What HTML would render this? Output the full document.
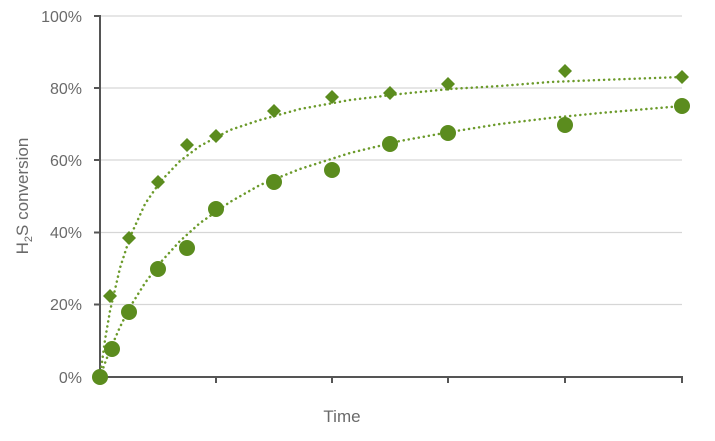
<!DOCTYPE html>
<html><head><style>
body{margin:0;background:#fff;}
svg text{font-family:"Liberation Sans",sans-serif;fill:#6a6a6a;}
</style></head><body>
<svg width="715" height="436" viewBox="0 0 715 436" xmlns="http://www.w3.org/2000/svg">
<g stroke="#d6d6d6" stroke-width="1.3">
<line x1="100" y1="16" x2="682" y2="16"/>
<line x1="100" y1="88" x2="682" y2="88"/>
<line x1="100" y1="160" x2="682" y2="160"/>
<line x1="100" y1="232.5" x2="682" y2="232.5"/>
<line x1="100" y1="304.5" x2="682" y2="304.5"/>
</g>
<g stroke="#555" stroke-width="2">
<line x1="100" y1="15" x2="100" y2="378"/>
<line x1="99" y1="377" x2="683" y2="377"/>
<line x1="94" y1="16" x2="100" y2="16"/>
<line x1="94" y1="88" x2="100" y2="88"/>
<line x1="94" y1="160" x2="100" y2="160"/>
<line x1="94" y1="232.5" x2="100" y2="232.5"/>
<line x1="94" y1="304.5" x2="100" y2="304.5"/>
<line x1="216" y1="377" x2="216" y2="383"/>
<line x1="332" y1="377" x2="332" y2="383"/>
<line x1="448" y1="377" x2="448" y2="383"/>
<line x1="565" y1="377" x2="565" y2="383"/>
<line x1="682" y1="377" x2="682" y2="383"/>
</g>
<g font-size="16" text-anchor="end">
<text x="82" y="22">100%</text>
<text x="82" y="94">80%</text>
<text x="82" y="166">60%</text>
<text x="82" y="238">40%</text>
<text x="82" y="310">20%</text>
<text x="82" y="383">0%</text>
</g>
<text x="342" y="422" font-size="17" text-anchor="middle">Time</text>
<text transform="translate(28,196) rotate(-90)" font-size="17" text-anchor="middle">H<tspan font-size="11" dy="4">2</tspan><tspan dy="-4">S conversion</tspan></text>
<g fill="none" stroke="#6b9a2a" stroke-width="2.5" stroke-dasharray="0.1 5" stroke-linecap="round">
<polyline points="100,377 105,340 110,311 120,268 130,237 145,204 160,182 180,161 200,146 230,130 260,120 300,109 350,100 400,94 450,89 500,86 550,82 600,80 682,77"/>
<polyline points="100,377 105,363 110,350 120,327 130,307 145,283 160,263 180,241 200,223 230,202 260,185 300,169 350,153 400,141 450,132 500,124 550,118 600,113 682,106"/>
</g>
<g fill="#5b8c1e">
<g transform="translate(0,0)">
<path d="M110,289 l7,7 l-7,7 l-7,-7z"/>
<path d="M129,231 l7,7 l-7,7 l-7,-7z"/>
<path d="M158,175 l7,7 l-7,7 l-7,-7z"/>
<path d="M187,138 l7,7 l-7,7 l-7,-7z"/>
<path d="M216,129 l7,7 l-7,7 l-7,-7z"/>
<path d="M274,104 l7,7 l-7,7 l-7,-7z"/>
<path d="M332,90 l7,7 l-7,7 l-7,-7z"/>
<path d="M390,86 l7,7 l-7,7 l-7,-7z"/>
<path d="M448,77 l7,7 l-7,7 l-7,-7z"/>
<path d="M565,64 l7,7 l-7,7 l-7,-7z"/>
<path d="M682,70 l7,7 l-7,7 l-7,-7z"/>
</g>
<circle cx="100" cy="377" r="8"/>
<circle cx="112" cy="349" r="8"/>
<circle cx="129" cy="312" r="8"/>
<circle cx="158" cy="269" r="8"/>
<circle cx="187" cy="248" r="8"/>
<circle cx="216" cy="209" r="8"/>
<circle cx="274" cy="182" r="8"/>
<circle cx="332" cy="170" r="8"/>
<circle cx="390" cy="144" r="8"/>
<circle cx="448" cy="133" r="8"/>
<circle cx="565" cy="125" r="8"/>
<circle cx="682" cy="106" r="8"/>
</g>
</svg>
</body></html>
